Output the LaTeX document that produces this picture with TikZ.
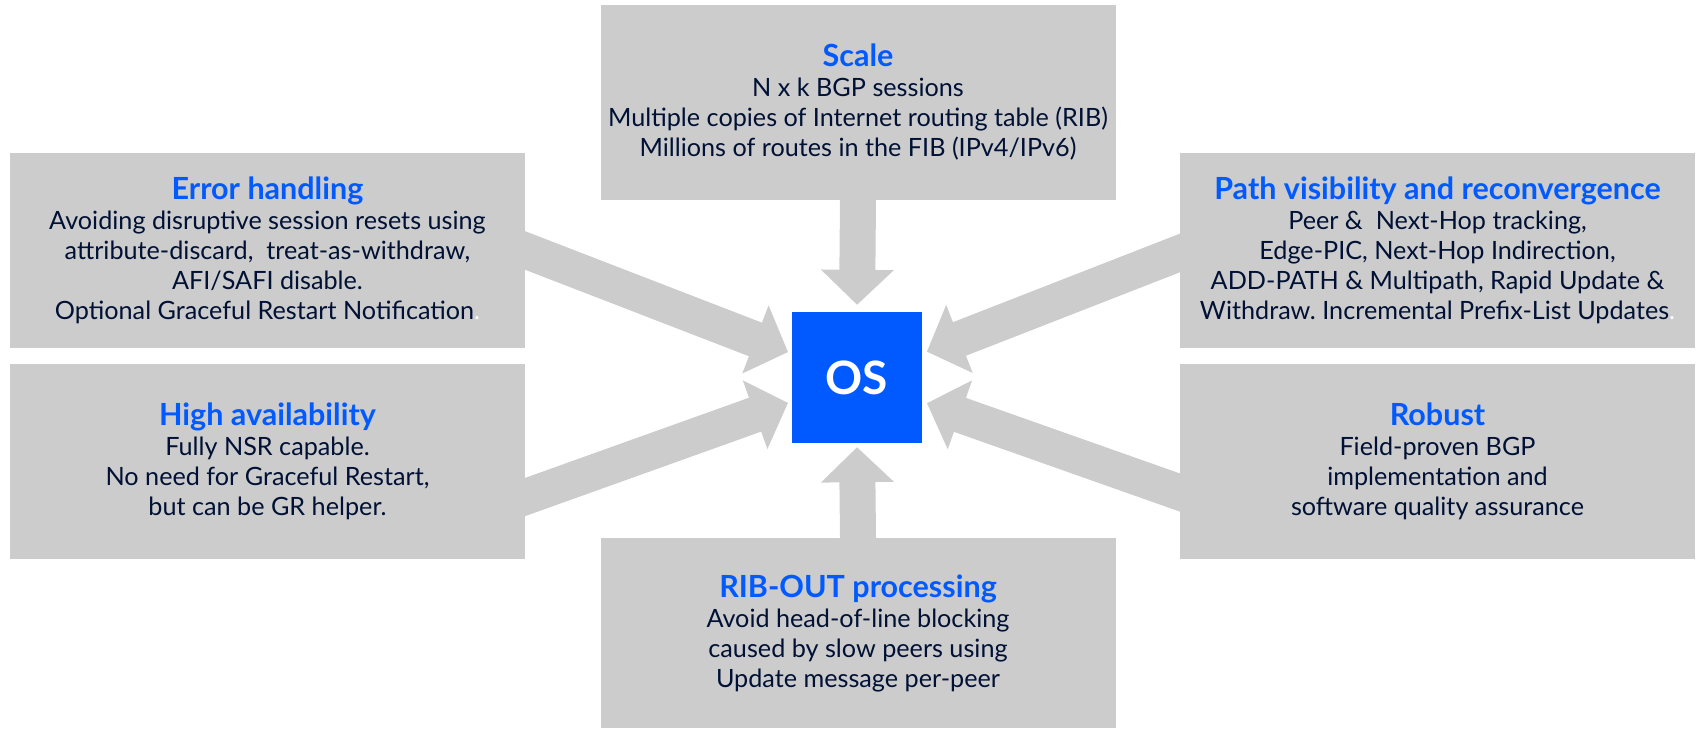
\documentclass[tikz,border=0pt]{standalone}
\usepackage{fontspec}
\setmainfont{Lato}
\usetikzlibrary{arrows.meta}
\definecolor{boxgray}{RGB}{204,204,204}
\definecolor{osblue}{RGB}{0,90,255}
\definecolor{textnavy}{RGB}{0,17,53}
\newcommand{\boxtitle}[1]{{\fontsize{30.5}{31}\selectfont\bfseries\color{osblue}#1}}
\frenchspacing

\begin{document}
\begin{tikzpicture}[x=1pt,y=-1pt,
	topic/.style={fill=boxgray,minimum width=515pt,minimum height=195pt,inner sep=0pt,align=center,text=textnavy,font=\fontsize{25.2}{30}\selectfont},
	feed/.style={draw=boxgray,line width=36pt,-{Triangle[length=35pt,width=71pt]},shorten <=-12pt}]

	\useasboundingbox (0,0) rectangle (1696,729);

	\begin{scope}[every node/.style={topic}]
		\node (scale) at (858,102) {\boxtitle{Scale}\\N x k BGP sessions\\Multiple copies of Internet routing table (RIB)\\Millions of routes in the FIB (IPv4/IPv6)};
		\node (error) at (267.5,250.5) {\boxtitle{Error handling}\\Avoiding disruptive session resets using\\attribute-discard, \ treat-as-withdraw,\\AFI/SAFI disable.\\Optional Graceful Restart Notification{\color{white}.}};
		\node (avail) at (267.5,461.5) {\boxtitle{High availability}\\Fully NSR capable.\\No need for Graceful Restart,\\but can be GR helper.};
		\node (path) at (1437.5,250) {\boxtitle{Path visibility and reconvergence}\\Peer \& \ Next-Hop tracking,\\Edge-PIC, Next-Hop Indirection,\\ADD-PATH \& Multipath, Rapid Update \&\\Withdraw. Incremental Prefix-List Updates{\color{white}.}};
		\node (robust) at (1437.5,461.5) {\boxtitle{Robust}\\Field-proven BGP\\implementation and\\software quality assurance};
		\node[minimum height=190pt] (ribout) at (858,633) {\boxtitle{RIB-OUT processing}\\Avoid head-of-line blocking\\caused by slow peers using\\Update message per-peer};
	\end{scope}

	\node[fill=osblue,minimum width=130pt,minimum height=131pt,text=white,font=\fontsize{46}{46}\selectfont\bfseries] (os) at (857,377.5) {OS};

	\draw[feed,shorten >=7pt] (scale.south) -- (os.north);
	\draw[feed,shorten >=4pt] (ribout.north) -- (os.south);
	\draw[feed,shorten >=4pt] (error.east) -- ([yshift=24pt]os.west);
	\draw[feed,shorten >=4pt] ([yshift=-35.5pt]avail.east) -- ([yshift=-24pt]os.west);
	\draw[feed,shorten >=5pt] ([yshift=-3pt]path.west) -- ([yshift=24pt]os.east);
	\draw[feed,shorten >=5pt] ([yshift=-31pt]robust.west) -- ([yshift=-24pt]os.east);

\end{tikzpicture}
\end{document}
